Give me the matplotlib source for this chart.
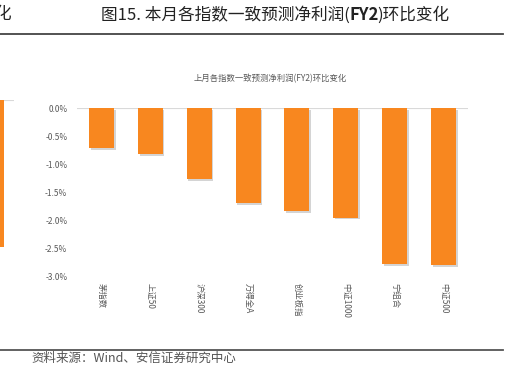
import matplotlib
matplotlib.use("Agg")
import matplotlib.pyplot as plt
import matplotlib.patheffects as pe
from matplotlib.lines import Line2D
from matplotlib.ticker import FuncFormatter

plt.rcParams['font.family'] = ['Noto Sans CJK SC', 'DejaVu Sans']

# data
categories = ['茅指数', '上证50', '沪深300', '万得全A', '创业板指', '中证1000', '宁组合', '中证500']
fy2_change = [-0.72, -0.82, -1.27, -1.70, -1.84, -1.96, -2.79, -2.81]   # %
y_ticks = [0.0, -0.5, -1.0, -1.5, -2.0, -2.5, -3.0]
prev_chart_values = [-2.62]   # edge of the neighbouring chart, cut off at the left

title_parts = [('图15. 本月各指数一致预测净利润(', 'normal'), ('FY2', 'bold'), (')环比变化', 'normal')]
inner_title = '上月各指数一致预测净利润(FY2)环比变化'
source_note = '资料来源：Wind、安信证券研究中心'

W, H = 510, 392
fig = plt.figure(figsize=(W / 100, H / 100), dpi=100)

bar_color = '#F8871F'
text_grey = '#595959'
shadow = [pe.SimplePatchShadow(offset=(1.2, -1.2), shadow_rgbFace='#a0a0a0', alpha=0.45), pe.Normal()]


def fx(px):
    return px / W


def fy(px):
    return 1 - px / H


# main chart
ax = fig.add_axes([fx(77), fy(276), fx(468 - 77), (276 - 108) / H])
x = range(len(categories))
bars = ax.bar(x, fy2_change, width=0.51, color=bar_color, zorder=3)
for b in bars:
    b.set_path_effects(shadow)
ax.axhline(0, color='#D9D9D9', lw=0.8, zorder=1)
ax.set_xlim(-0.5, len(categories) - 0.5)
ax.set_ylim(-3.0, 0.0)
ax.set_yticks(y_ticks)
ax.yaxis.set_major_formatter(FuncFormatter(lambda v, p: '%.1f%%' % v))
ax.set_xticks(list(x))
ax.set_xticklabels(categories, rotation=-90, va='top', ha='center')
ax.tick_params(axis='both', length=0, labelsize=6, labelcolor=text_grey)
ax.tick_params(axis='x', pad=5)
ax.tick_params(axis='y', pad=7)
for s in ax.spines.values():
    s.set_visible(False)
ax.patch.set_alpha(0)

fig.text(fx(270), fy(79), inner_title, ha='center', va='center', fontsize=6, color=text_grey)

# neighbouring chart cut off at the left edge
ax_prev = fig.add_axes([fx(-20), fy(268), fx(34), (268 - 100) / H])
ax_prev.bar([0], prev_chart_values, width=0.5, color=bar_color, zorder=3)
ax_prev.axhline(0, color='#D9D9D9', lw=0.8, zorder=1)
ax_prev.set_xlim(-0.34, 0.5)
ax_prev.set_ylim(-3.0, 0.0)
ax_prev.axis('off')
fig.text(fx(-6), fy(15), '化', ha='left', va='center', fontsize=12, color='#222222')

# page title (FY2 in bold), laid out piece by piece
renderer = fig.canvas.get_renderer()
pieces = []
total = 0
for s, w in title_parts:
    t = fig.text(0, fy(15), s, ha='left', va='center', fontsize=12, fontweight=w, color='#222222')
    width = t.get_window_extent(renderer).width
    if w == 'bold':
        width -= 2.5
    pieces.append((t, width))
    total += width
xpos = 275 - total / 2
for t, width in pieces:
    t.set_x(fx(xpos))
    xpos += width

fig.add_artist(Line2D([0, fx(503)], [fy(33.5), fy(33.5)], color='#444444', lw=1.3))
fig.add_artist(Line2D([0, fx(503)], [fy(349.5), fy(349.5)], color='#555555', lw=1.3))
fig.text(fx(31), fy(358), source_note, ha='left', va='center', fontsize=9, color='#555555')

fig.savefig('out.png', dpi=100, facecolor='white')
